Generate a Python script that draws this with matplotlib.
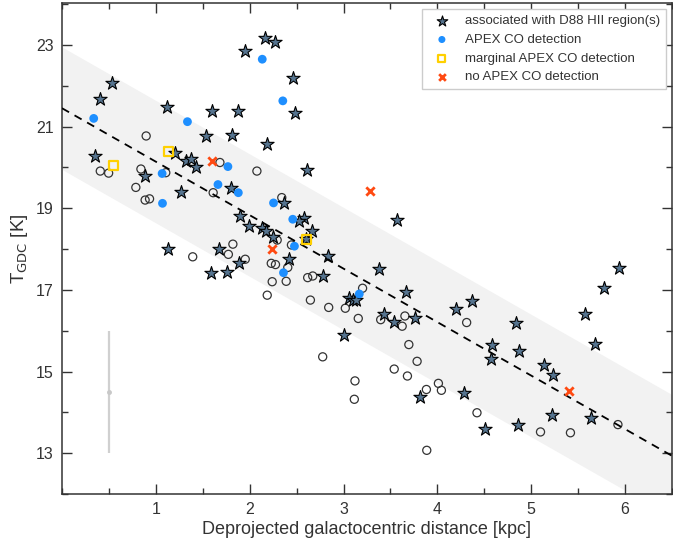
import numpy as np
import matplotlib
matplotlib.use("Agg")
import matplotlib.pyplot as plt
from matplotlib.ticker import MultipleLocator, FixedLocator

plt.rcParams['font.family'] = ['Liberation Sans', 'DejaVu Sans']

# Clouds without an HII-region association (open circles)
open_r = [0.897, 0.408, 0.497, 0.841, 1.106, 0.787, 0.886, 0.933, 1.611, 1.683,
          2.077, 2.342, 1.393, 2.293, 2.445, 1.821, 1.773, 1.953, 2.230, 2.275,
          2.406, 2.240, 2.389, 2.618, 2.672, 2.187, 2.647, 2.842, 3.019, 3.203,
          3.157, 3.396, 2.778, 3.122, 3.115, 3.654, 3.625, 4.312, 3.696, 3.784,
          3.540, 3.681, 4.011, 4.043, 3.883, 4.422, 3.887, 5.099, 5.418, 5.924]
open_t = [20.77, 19.91, 19.86, 19.96, 19.87, 19.51, 19.20, 19.23, 19.38, 20.12,
          19.91, 19.26, 17.81, 18.22, 18.10, 18.12, 17.87, 17.75, 17.65, 17.62,
          17.55, 17.20, 17.21, 17.30, 17.34, 16.87, 16.75, 16.57, 16.55, 17.04,
          16.30, 16.27, 15.36, 14.77, 14.32, 16.36, 16.11, 16.20, 15.66, 15.25,
          15.06, 14.89, 14.71, 14.54, 14.56, 13.99, 13.07, 13.52, 13.50, 13.70]

# Clouds associated with D88 HII regions (stars)
hii_r = [0.532, 0.402, 1.117, 1.595, 1.875, 1.531, 1.815, 1.205, 0.355, 1.319,
         1.375, 1.432, 0.880, 1.269, 1.128, 1.588, 1.675, 2.158, 2.272, 1.946,
         2.459, 2.485, 2.183, 2.608, 1.797, 2.363, 2.576, 2.530, 2.665, 1.896,
         1.991, 2.134, 2.176, 2.247, 2.417, 1.885, 1.758, 2.778, 2.833, 3.054,
         3.097, 3.133, 3.009, 3.569, 3.373, 3.664, 4.372, 4.196, 3.426, 3.540,
         3.763, 4.842, 4.585, 4.567, 4.868, 3.816, 4.287, 4.507, 4.863, 5.938,
         5.771, 5.577, 5.676, 5.134, 5.230, 5.224, 5.637, 2.605]
hii_t = [22.06, 21.67, 21.49, 21.38, 21.38, 20.77, 20.79, 20.36, 20.27, 20.15,
         20.21, 20.00, 19.79, 19.40, 18.00, 17.42, 18.01, 23.16, 23.06, 22.85,
         22.18, 21.33, 20.57, 19.94, 19.49, 19.13, 18.77, 18.69, 18.45, 18.81,
         18.56, 18.51, 18.45, 18.29, 17.75, 17.66, 17.44, 17.34, 17.83, 16.79,
         16.75, 16.75, 15.89, 18.71, 17.50, 16.94, 16.73, 16.53, 16.40, 16.21,
         16.30, 16.18, 15.66, 15.30, 15.50, 14.38, 14.48, 13.58, 13.70, 17.53,
         17.05, 16.42, 15.67, 15.17, 14.91, 13.94, 13.87, 18.24]

# APEX CO detections
co_r = [0.338, 1.337, 1.067, 1.071, 1.768, 1.662, 1.879, 2.254, 2.459, 2.477,
        2.360, 3.168, 2.134, 2.353]
co_t = [21.20, 21.12, 19.85, 19.12, 20.02, 19.58, 19.38, 19.13, 18.73, 18.07,
        17.42, 16.90, 22.65, 21.63]

# Marginal APEX CO detections
marg_r = [1.135, 0.550, 2.605]
marg_t = [20.38, 20.04, 18.24]

# APEX CO non-detections
non_r = [1.595, 2.240, 3.282, 5.407]
non_t = [20.16, 18.00, 19.43, 14.53]

# Linear gradient fit and its scatter band
fit_intercept = 21.45
fit_slope = -1.31
band_halfwidth = 1.5

# Typical uncertainty
err_x, err_y, err_dy = 0.5, 14.5, 1.5

fig = plt.figure(figsize=(6.73, 5.47), dpi=100)
ax = fig.add_axes([0.0921, 0.0969, 0.9064, 0.8971])

xlim = (0, 6.5)
ylim = (12, 24.02)
xx = np.linspace(xlim[0], xlim[1], 200)
fit = fit_intercept + fit_slope * xx
ax.fill_between(xx, fit - band_halfwidth, fit + band_halfwidth,
                color='#f2f2f2', lw=0, zorder=0)
ax.plot(xx, fit, color='black', ls=(0, (4.5, 3.5)), lw=1.3, zorder=5)

ax.errorbar([err_x], [err_y], yerr=[err_dy], fmt='o', ms=2.5, color='#c8c8c8',
            ecolor='#d0d0d0', elinewidth=1.6, capsize=0, zorder=1)

ax.scatter(open_r, open_t, s=34, facecolors='none', edgecolors='#333333',
           linewidths=0.9, zorder=2)
ax.scatter(hii_r, hii_t, s=100, marker='*', facecolors='#56748f',
           edgecolors='black', linewidths=0.8, zorder=3,
           label='associated with D88 HII region(s)')
ax.scatter(co_r, co_t, s=40, color='#1e8fff', edgecolors='none', zorder=4,
           label='APEX CO detection')
ax.scatter(marg_r, marg_t, s=40, marker='s', facecolors='none',
           edgecolors='#ffd000', linewidths=1.6, zorder=6,
           label='marginal APEX CO detection')
ax.scatter(non_r, non_t, s=36, marker='x', color='#ff4a12', linewidths=2.0,
           zorder=6, label='no APEX CO detection')

ax.set_xlim(*xlim)
ax.set_ylim(*ylim)

ax.xaxis.set_major_locator(FixedLocator([1, 2, 3, 4, 5, 6]))
ax.xaxis.set_minor_locator(MultipleLocator(0.5))
ax.yaxis.set_major_locator(FixedLocator([13, 15, 17, 19, 21, 23]))
ax.yaxis.set_minor_locator(MultipleLocator(1))
ax.tick_params(which='both', direction='in', top=True, right=True,
               colors='#333333', labelcolor='#333333', labelsize=11.5, width=1)
ax.tick_params(which='major', length=7, pad=6)
ax.tick_params(which='minor', length=4)
for sp in ax.spines.values():
    sp.set_color('#333333')
    sp.set_linewidth(1.1)

ax.set_xlabel('Deprojected galactocentric distance [kpc]', fontsize=13,
              color='#333333', labelpad=3)
ax.set_ylabel(r'T$_{\mathrm{GDC}}$ [K]', fontsize=13.5, color='#333333',
              labelpad=4)

leg = ax.legend(loc='upper right', fontsize=9.5, frameon=True, fancybox=False,
                edgecolor='#cccccc', framealpha=1, borderpad=0.45,
                handlelength=2.1, handletextpad=0.7, labelspacing=0.48,
                borderaxespad=0.45, scatterpoints=1, markerscale=0.8)
leg.get_frame().set_linewidth(1.0)
for t in leg.get_texts():
    t.set_color('#333333')

fig.savefig('out.png', dpi=100)
